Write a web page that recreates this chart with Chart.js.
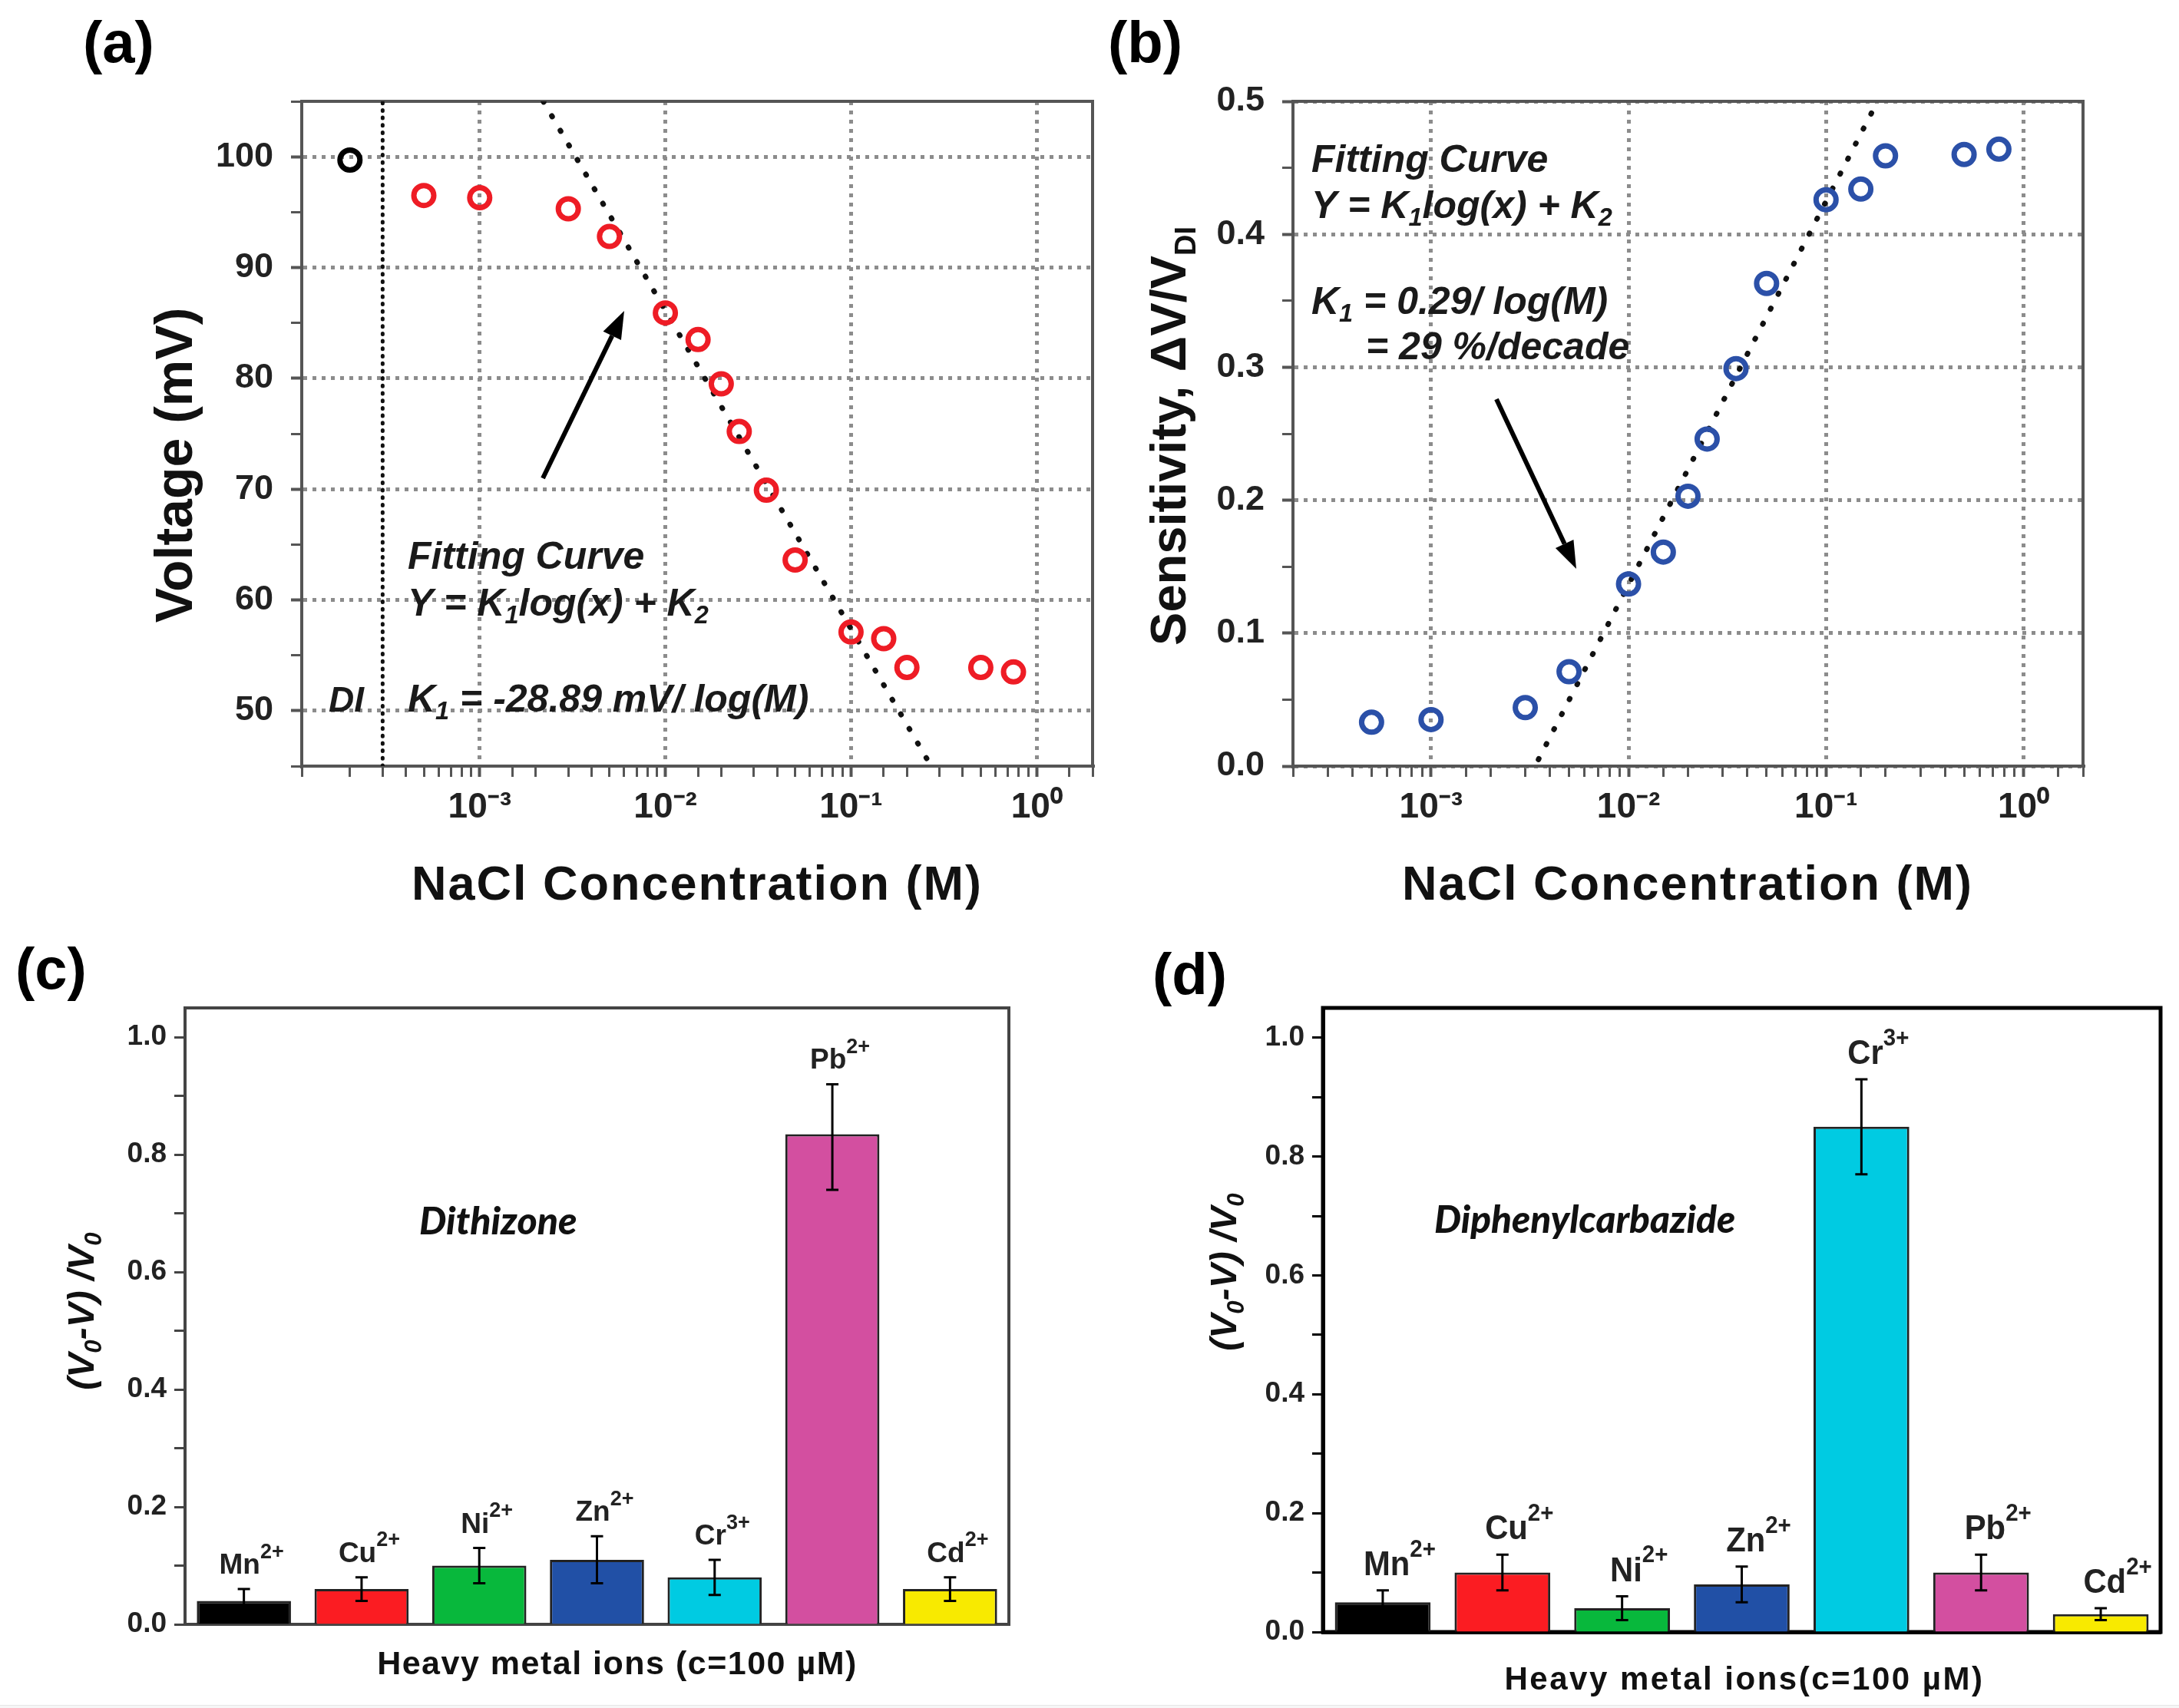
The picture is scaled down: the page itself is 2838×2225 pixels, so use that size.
<!DOCTYPE html>
<html>
<head>
<meta charset="utf-8">
<title>NaCl sensitivity and heavy metal ions</title>
<script src="https://cdn.jsdelivr.net/npm/chart.js@4/dist/chart.umd.min.js"></script>
<style>
	html, body { margin: 0; padding: 0; background: #fff; }
	canvas { position: absolute; }
	#strip { position: absolute; left: 0; top: 2221px; width: 2838px; height: 4px; background: #f6f6f6; border-top: 1px solid #e6e6e6; box-sizing: border-box; }
</style>
</head>
<body>
<canvas id="a"></canvas>
<canvas id="b"></canvas>
<canvas id="c"></canvas>
<canvas id="d"></canvas>
<div id="strip"></div>
<script>
// values
const concentrations = [5e-4, 1e-3, 3e-3, 5e-3, 1e-2, 1.5e-2, 2e-2, 2.5e-2, 3.5e-2, 5e-2, 0.1, 0.15, 0.2, 0.5, 0.75];
const voltage = [96.5, 96.3, 95.3, 92.8, 85.9, 83.5, 79.5, 75.2, 69.9, 63.6, 57.1, 56.5, 53.9, 53.9, 53.5];
const diConcentration = [2e-4];
const diVoltage = [99.7];
const breakX = [3e-4, 3e-4];
const breakY = [45, 105];
const voltageFitX = [2.2e-3, 0.27];
const voltageFitY = [105, 45];
const sensitivity = [0.033, 0.035, 0.044, 0.071, 0.137, 0.161, 0.203, 0.246, 0.299, 0.363, 0.426, 0.434, 0.459, 0.460, 0.464];
const sensitivityFitX = [3.5e-3, 0.171];
const sensitivityFitY = [0.005, 0.492];

const xTickValues = [1e-3, 1e-2, 1e-1, 1];
const xTickLabels = ['10⁻³', '10⁻²', '10⁻¹', '10⁰'];
const voltageTicks = [50, 60, 70, 80, 90, 100];
const sensitivityTicks = [0, 0.1, 0.2, 0.3, 0.4, 0.5];
const ratioTicks = [0, 0.2, 0.4, 0.6, 0.8, 1];

const ionsC = ['Mn^{2+}', 'Cu^{2+}', 'Ni^{2+}', 'Zn^{2+}', 'Cr^{3+}', 'Pb^{2+}', 'Cd^{2+}'];
const valuesC = [0.04, 0.06, 0.10, 0.11, 0.08, 0.835, 0.06];
const errLowC = [0.02, 0.04, 0.07, 0.07, 0.05, 0.74, 0.04];
const errHighC = [0.06, 0.08, 0.13, 0.15, 0.11, 0.92, 0.08];
const ionsD = ['Mn^{2+}', 'Cu^{2+}', 'Ni^{2+}', 'Zn^{2+}', 'Cr^{3+}', 'Pb^{2+}', 'Cd^{2+}'];
const valuesD = [0.05, 0.10, 0.04, 0.08, 0.85, 0.10, 0.03];
const errLowD = [0.03, 0.07, 0.02, 0.05, 0.77, 0.07, 0.02];
const errHighD = [0.07, 0.13, 0.06, 0.11, 0.93, 0.13, 0.04];
const barColorsC = ['#000000', '#fb1c22', '#08b83c', '#2150a6', '#00cbe2', '#d34fa0', '#f8ea00'];
const barColorsD = ['#000000', '#fb1c22', '#08b83c', '#2150a6', '#00cbe2', '#d34fa0', '#f8ea00'];

const SANS = '"Liberation Sans"';
const near = (list, v) => list.some((t) => Math.abs(t - v) < 1e-6);
const toPoints = (xs, ys) => xs.map((x, i) => ({ x: x, y: ys[i] }));

// text with ^{..} and _{..} runs, optional rotation, real text on the canvas
const drawText = (ctx, str, x, y, o) => {
	const size = o.size;
	const smallSize = o.small || size * 0.65;
	const parts = str.split(/([_^]\{[^}]*\})/).filter((p) => p).map((p) => {
		const m = p.match(/^([_^])\{(.*)\}$/);
		return m ? { t: m[2], s: m[1] } : { t: p, s: '' };
	});
	const fontOf = (p) => (o.style || 'bold') + ' ' + (p.s ? smallSize : size) + 'px ' + (o.family || SANS);
	ctx.save();
	ctx.fillStyle = o.color || '#111';
	ctx.textAlign = 'left';
	ctx.textBaseline = 'alphabetic';
	ctx.letterSpacing = (o.spacing || 0) + 'px';
	let total = 0;
	parts.forEach((p) => {
		ctx.font = fontOf(p);
		p.w = ctx.measureText(p.t).width;
		total += p.w;
	});
	ctx.translate(x, y);
	if (o.rot) ctx.rotate(o.rot);
	if (o.squeeze) ctx.scale(o.squeeze, 1);
	let cx = o.align === 'center' ? -total / 2 : 0;
	parts.forEach((p) => {
		ctx.font = fontOf(p);
		const dy = p.s === '^' ? -size * (o.rise || 0.36) : p.s === '_' ? size * 0.2 : 0;
		ctx.fillText(p.t, cx, dy);
		cx += p.w;
	});
	ctx.restore();
};

const drawArrow = (ctx, x0, y0, x1, y1) => {
	const ang = Math.atan2(y1 - y0, x1 - x0);
	const head = 36;
	const bx = x1 - Math.cos(ang) * head;
	const by = y1 - Math.sin(ang) * head;
	ctx.save();
	ctx.strokeStyle = '#000';
	ctx.fillStyle = '#000';
	ctx.lineWidth = 6;
	ctx.beginPath();
	ctx.moveTo(x0, y0);
	ctx.lineTo(bx, by);
	ctx.stroke();
	ctx.beginPath();
	ctx.moveTo(x1, y1);
	ctx.lineTo(bx + Math.sin(ang) * 13, by - Math.cos(ang) * 13);
	ctx.lineTo(bx - Math.sin(ang) * 13, by + Math.cos(ang) * 13);
	ctx.closePath();
	ctx.fill();
	ctx.restore();
};

// notes use page coordinates, the canvas offset is taken off here
const overlay = (box, frame, notes, barNotes) => ({
	id: 'overlay',
	beforeDatasetsDraw(chart) {
		const ctx = chart.ctx;
		const area = chart.chartArea;
		ctx.save();
		ctx.strokeStyle = frame.color;
		ctx.lineWidth = frame.width;
		ctx.strokeRect(area.left, area.top, area.right - area.left, area.bottom - area.top);
		ctx.restore();
	},
	afterDraw(chart) {
		const ctx = chart.ctx;
		if (barNotes) barNotes(chart);
		ctx.save();
		ctx.translate(-box.left, -box.top);
		notes(ctx);
		ctx.restore();
	},
});

const makeCanvas = (id, box) => {
	const el = document.getElementById(id);
	el.width = box.width;
	el.height = box.height;
	el.style.left = box.left + 'px';
	el.style.top = box.top + 'px';
	return el;
};

const logPanel = (id, box, plot, yRange, yStep, yTicks, datasets, frame, notes) => {
	new Chart(makeCanvas(id, box), {
		type: 'scatter',
		data: { datasets: datasets },
		options: {
			responsive: false,
			animation: false,
			devicePixelRatio: 1,
			layout: { autoPadding: false, padding: { top: plot.top - box.top, right: box.left + box.width - plot.right, left: 0, bottom: 0 } },
			plugins: { legend: { display: false }, tooltip: { enabled: false } },
			scales: {
				x: {
					type: 'logarithmic',
					min: plot.xMin,
					max: plot.xMax,
					afterFit: (s) => { s.height = box.top + box.height - plot.bottom; },
					border: { color: frame.color, width: frame.width, dash: [5, 7] },
					grid: {
						color: (c) => (near(xTickValues, c.tick.value) ? '#8c8c8c' : 'rgba(0,0,0,0)'),
						lineWidth: 5,
						tickColor: frame.color,
						tickBorderDash: [],
						tickLength: 14,
						tickWidth: (c) => (near(xTickValues, c.tick.value) ? 4 : 3),
					},
					ticks: {
						autoSkip: false,
						maxRotation: 0,
						padding: 13,
						color: '#222',
						font: { family: SANS, size: 46, weight: 'bold' },
						callback: (v) => {
							const at = xTickValues.findIndex((t) => Math.abs(t - v) < t * 1e-6);
							return at < 0 ? '' : xTickLabels[at];
						},
					},
				},
				y: {
					min: yRange[0],
					max: yRange[1],
					afterFit: (s) => { s.width = plot.left - box.left; },
					border: { color: frame.color, width: frame.width, dash: [5, 7] },
					grid: {
						color: (c) => (near(yTicks, c.tick.value) ? '#8c8c8c' : 'rgba(0,0,0,0)'),
						lineWidth: 5,
						tickColor: frame.color,
						tickBorderDash: [],
						tickLength: 14,
						tickWidth: (c) => (near(yTicks, c.tick.value) ? 4 : 3),
					},
					ticks: {
						autoSkip: false,
						stepSize: yStep,
						includeBounds: false,
						padding: 23,
						color: '#222',
						font: { family: SANS, size: 45, weight: 'bold' },
						callback: (v) => (near(yTicks, v) ? (yStep < 1 ? v.toFixed(1) : String(v)) : ''),
					},
				},
			},
		},
		plugins: [overlay(box, frame, notes)],
	});
};

const barPanel = (id, box, plot, ions, values, errLow, errHigh, colors, frame, ion, notes) => {
	const errorBars = (chart) => {
		const ctx = chart.ctx;
		const xs = chart.scales.x;
		const ys = chart.scales.y;
		ctx.save();
		ctx.strokeStyle = '#000';
		ctx.lineWidth = 3;
		ions.forEach((name, i) => {
			const x = xs.getPixelForValue(i);
			const lo = ys.getPixelForValue(errLow[i]);
			const hi = ys.getPixelForValue(errHigh[i]);
			ctx.beginPath();
			ctx.moveTo(x, lo);
			ctx.lineTo(x, hi);
			ctx.moveTo(x - 8, lo);
			ctx.lineTo(x + 8, lo);
			ctx.moveTo(x - 8, hi);
			ctx.lineTo(x + 8, hi);
			ctx.stroke();
			drawText(ctx, name, x + ion.shift, hi - 20, { align: 'center', size: ion.size, small: ion.small, squeeze: ion.squeeze, rise: 0.55, color: '#222' });
		});
		ctx.restore();
	};
	new Chart(makeCanvas(id, box), {
		type: 'bar',
		data: {
			labels: ions,
			datasets: [{
				data: values,
				backgroundColor: colors,
				borderColor: '#222',
				borderWidth: 3,
				categoryPercentage: 0.8,
				barPercentage: 1,
			}],
		},
		options: {
			responsive: false,
			animation: false,
			devicePixelRatio: 1,
			layout: { autoPadding: false, padding: { top: plot.top - box.top, right: box.left + box.width - plot.right, left: 0, bottom: 0 } },
			plugins: { legend: { display: false }, tooltip: { enabled: false } },
			scales: {
				x: {
					afterFit: (s) => { s.height = box.top + box.height - plot.bottom; },
					border: { color: frame.color, width: frame.width },
					grid: { display: false },
					ticks: { display: false },
				},
				y: {
					min: 0,
					max: 1.05,
					afterFit: (s) => { s.width = plot.left - box.left; },
					border: { color: frame.color, width: frame.width },
					grid: { drawOnChartArea: false, tickColor: frame.color, tickLength: 14, tickWidth: 3 },
					ticks: {
						autoSkip: false,
						stepSize: 0.1,
						includeBounds: false,
						padding: 10,
						color: '#222',
						font: { family: SANS, size: 37, weight: 'bold' },
						callback: (v) => (near(ratioTicks, v) ? v.toFixed(1) : ''),
					},
				},
			},
		},
		plugins: [overlay(box, frame, notes, errorBars)],
	});
};

const NOTE = { style: 'italic bold', size: 50, color: '#1a1a1a' };
const UP = -Math.PI / 2;
const fitLine = (xs, ys) => ({
	data: toPoints(xs, ys),
	showLine: true,
	pointRadius: 0,
	borderColor: '#111',
	borderWidth: 7,
	borderDash: [1, 21],
	borderCapStyle: 'round',
	order: 3,
});
const rings = (xs, ys, color) => ({
	data: toPoints(xs, ys),
	pointRadius: 13,
	pointBorderWidth: 7,
	pointBorderColor: color,
	pointBackgroundColor: 'rgba(0,0,0,0)',
	order: 1,
});

logPanel('a', { left: 0, top: 0, width: 1440, height: 1200 },
	{ left: 393, right: 1423, top: 132, bottom: 998, xMin: 1.1e-4, xMax: 2 },
	[45, 105], 5, voltageTicks,
	[
		fitLine(voltageFitX, voltageFitY),
		Object.assign(fitLine(breakX, breakY), { borderWidth: 5, borderDash: [1, 8.7] }),
		rings(concentrations, voltage, '#ee1c25'),
		rings(diConcentration, diVoltage, '#000'),
	],
	{ color: '#555', width: 4 },
	(ctx) => {
		drawText(ctx, '(a)', 108, 81, { size: 76, color: '#000' });
		drawText(ctx, 'NaCl Concentration (M)', 908, 1172, { align: 'center', size: 63, spacing: 2 });
		drawText(ctx, 'Voltage (mV)', 250, 606, { align: 'center', size: 68, rot: UP });
		drawText(ctx, 'Fitting Curve', 531, 741, NOTE);
		drawText(ctx, 'Y = K_{1}log(x) + K_{2}', 531, 802, NOTE);
		drawText(ctx, 'DI', 428, 927, Object.assign({}, NOTE, { size: 46 }));
		drawText(ctx, 'K_{1} = -28.89 mV/ log(M)', 531, 927, NOTE);
		drawArrow(ctx, 707, 623, 813, 405);
	});

logPanel('b', { left: 1440, top: 0, width: 1398, height: 1200 },
	{ left: 1684, right: 2713, top: 132, bottom: 998, xMin: 2e-4, xMax: 2 },
	[0, 0.5], 0.05, sensitivityTicks,
	[
		fitLine(sensitivityFitX, sensitivityFitY),
		rings(concentrations, sensitivity, '#2b50a8'),
	],
	{ color: '#555', width: 4 },
	(ctx) => {
		drawText(ctx, '(b)', 1443, 81, { size: 76, color: '#000' });
		drawText(ctx, 'NaCl Concentration (M)', 2198, 1172, { align: 'center', size: 63, spacing: 2 });
		drawText(ctx, 'Sensitivity, ΔV/V_{DI}', 1544, 568, { align: 'center', size: 65, small: 38, rot: UP });
		drawText(ctx, 'Fitting Curve', 1708, 224, NOTE);
		drawText(ctx, 'Y = K_{1}log(x) + K_{2}', 1708, 284, NOTE);
		drawText(ctx, 'K_{1} = 0.29/ log(M)', 1708, 409, NOTE);
		drawText(ctx, '= 29 %/decade', 1779, 468, NOTE);
		drawArrow(ctx, 1949, 520, 2053, 741);
	});

barPanel('c', { left: 0, top: 1200, width: 1420, height: 1025 },
	{ left: 241, right: 1314, top: 1313, bottom: 2116 },
	ionsC, valuesC, errLowC, errHighC, barColorsC,
	{ color: '#444', width: 4 },
	{ size: 37, small: 27, squeeze: 1, shift: 10 },
	(ctx) => {
		drawText(ctx, '(c)', 20, 1288, { size: 76, color: '#000' });
		drawText(ctx, 'Heavy metal ions (c=100 µM)', 804, 2181, { align: 'center', size: 43, spacing: 1.5 });
		drawText(ctx, '(V_{0}-V) /V_{0}', 122, 1708, { align: 'center', size: 48, style: 'italic bold', rot: UP });
		drawText(ctx, 'Dithizone', 546, 1608, { size: 50, style: 'italic 900', family: 'Lato' });
	});

barPanel('d', { left: 1420, top: 1200, width: 1418, height: 1025 },
	{ left: 1723, right: 2814, top: 1313, bottom: 2126 },
	ionsD, valuesD, errLowD, errHighD, barColorsD,
	{ color: '#000', width: 5 },
	{ size: 44, small: 31, squeeze: 0.95, shift: 22 },
	(ctx) => {
		drawText(ctx, '(d)', 1501, 1295, { size: 76, color: '#000' });
		drawText(ctx, 'Heavy metal ions(c=100 µM)', 2272, 2201, { align: 'center', size: 42, spacing: 2.5 });
		drawText(ctx, '(V_{0}-V) /V_{0}', 1610, 1657, { align: 'center', size: 48, style: 'italic bold', rot: UP });
		drawText(ctx, 'Diphenylcarbazide', 1868, 1606, { size: 49.5, style: 'italic 900', family: 'Lato' });
	});
</script>
</body>
</html>
